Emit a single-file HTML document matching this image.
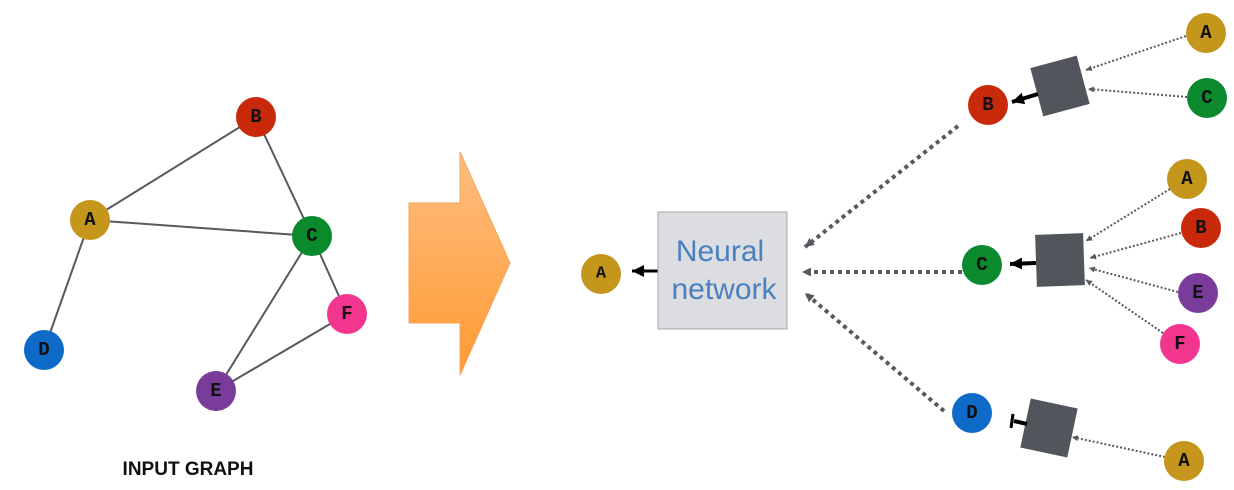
<!DOCTYPE html>
<html><head><meta charset="utf-8"><style>
html,body{margin:0;padding:0;background:#fff;}
svg{display:block}
.n{font-family:"Liberation Mono",monospace;font-weight:bold;font-size:19px;fill:#111;text-anchor:middle;dominant-baseline:central}
</style></head><body>
<svg width="1234" height="490" viewBox="0 0 1234 490" xmlns="http://www.w3.org/2000/svg">
<defs>
<linearGradient id="og" x1="0" y1="0" x2="0" y2="1"><stop offset="0" stop-color="#ffbe80"/><stop offset="1" stop-color="#ff9a33"/></linearGradient>
<marker id="gh" viewBox="0 0 10 10" refX="10" refY="5" markerWidth="6" markerHeight="6" markerUnits="userSpaceOnUse" orient="auto"><path d="M0,0L10,5L0,10z" fill="#555a60"/></marker>
<marker id="gs" viewBox="0 0 10 10" refX="10" refY="5" markerWidth="9" markerHeight="9" markerUnits="userSpaceOnUse" orient="auto"><path d="M0,0L10,5L0,10z" fill="#555a60"/></marker>
<marker id="bh" viewBox="0 0 10 10" refX="10" refY="5" markerWidth="12" markerHeight="12" markerUnits="userSpaceOnUse" orient="auto"><path d="M0,0L10,5L0,10z" fill="#000"/></marker>
</defs>
<!-- left graph -->
<g stroke="#555a60" stroke-width="2">
<line x1="90" y1="220" x2="256" y2="117"/>
<line x1="256" y1="117" x2="312" y2="236"/>
<line x1="90" y1="220" x2="312" y2="236"/>
<line x1="90" y1="220" x2="44" y2="350"/>
<line x1="312" y1="236" x2="347" y2="314"/>
<line x1="312" y1="236" x2="216" y2="391"/>
<line x1="347" y1="314" x2="216" y2="391"/>
</g>
<circle cx="256" cy="117" r="20" fill="#c8290b"/><text class="n" x="256" y="117">B</text>
<circle cx="90" cy="220" r="20" fill="#c4961c"/><text class="n" x="90" y="220">A</text>
<circle cx="312" cy="236" r="20" fill="#0a8a2c"/><text class="n" x="312" y="236">C</text>
<circle cx="347" cy="314" r="20" fill="#f2358d"/><text class="n" x="347" y="314">F</text>
<circle cx="44" cy="350" r="20" fill="#0e6ac8"/><text class="n" x="44" y="350">D</text>
<circle cx="216" cy="391" r="20" fill="#7a3c9a"/><text class="n" x="216" y="391">E</text>
<text x="188" y="475" font-family="Liberation Sans,sans-serif" font-weight="bold" font-size="19" text-anchor="middle" fill="#111">INPUT GRAPH</text>
<!-- big arrow -->
<path d="M409,203 L460,203 L460,152 L510,263 L460,375 L460,323 L409,323 Z" fill="url(#og)" stroke="#f5a35a" stroke-width="1"/>
<!-- A and NN -->
<circle cx="601" cy="274" r="20" fill="#c4961c"/><text class="n" x="601" y="274" style="font-size:17px">A</text>
<line x1="658" y1="271" x2="632" y2="271" stroke="#000" stroke-width="3" marker-end="url(#bh)"/>
<rect x="658" y="212" width="129" height="117" fill="#dcdde0" stroke="#a5a7aa" stroke-width="1"/>
<text x="720" y="261" font-family="Liberation Sans,sans-serif" font-size="30" fill="#4a7fc1" text-anchor="middle">Neural</text>
<text x="724" y="299" font-family="Liberation Sans,sans-serif" font-size="30" fill="#4a7fc1" text-anchor="middle">network</text>
<!-- thick dotted -->
<g stroke="#555a60" stroke-width="4" stroke-dasharray="4 4" fill="none">
<line x1="958" y1="126" x2="805" y2="247" marker-end="url(#gs)"/>
<line x1="962" y1="272" x2="802" y2="272" marker-end="url(#gs)"/>
<line x1="944" y1="411" x2="805" y2="293" marker-end="url(#gs)"/>
</g>
<!-- squares -->
<rect x="-24" y="-25" width="48" height="50" fill="#52565c" transform="translate(1060,86) rotate(-15)"/>
<rect x="-24" y="-26" width="48" height="52" fill="#52565c" transform="translate(1060,260) rotate(-2)"/>
<rect x="-24" y="-25" width="48" height="50" fill="#52565c" transform="translate(1049,428) rotate(12)"/>
<!-- thin dotted -->
<g stroke="#555a60" stroke-width="2" stroke-dasharray="2 2" fill="none">
<line x1="1186" y1="36" x2="1086" y2="70" marker-end="url(#gh)"/>
<line x1="1187" y1="97" x2="1088" y2="89" marker-end="url(#gh)"/>
<line x1="1170" y1="189" x2="1086" y2="241" marker-end="url(#gh)"/>
<line x1="1181" y1="233" x2="1090" y2="258" marker-end="url(#gh)"/>
<line x1="1178" y1="292" x2="1089" y2="268" marker-end="url(#gh)"/>
<line x1="1163" y1="333" x2="1086" y2="280" marker-end="url(#gh)"/>
<line x1="1165" y1="457" x2="1072" y2="437" marker-end="url(#gh)"/>
</g>
<!-- black arrows -->
<line x1="1038" y1="94" x2="1012" y2="102" stroke="#000" stroke-width="4" marker-end="url(#bh)"/>
<line x1="1036" y1="263" x2="1010" y2="264" stroke="#000" stroke-width="4" marker-end="url(#bh)"/>
<line x1="1027" y1="424" x2="1014" y2="421" stroke="#000" stroke-width="4"/>
<line x1="1013" y1="414" x2="1011" y2="428" stroke="#000" stroke-width="3"/>
<!-- right nodes -->
<circle cx="988" cy="105" r="20" fill="#c8290b"/><text class="n" x="988" y="105">B</text>
<circle cx="982" cy="265" r="20" fill="#0a8a2c"/><text class="n" x="982" y="265">C</text>
<circle cx="972" cy="413" r="20" fill="#0e6ac8"/><text class="n" x="972" y="413">D</text>
<circle cx="1206" cy="33" r="20" fill="#c4961c"/><text class="n" x="1206" y="33">A</text>
<circle cx="1207" cy="98" r="20" fill="#0a8a2c"/><text class="n" x="1207" y="98">C</text>
<circle cx="1187" cy="179" r="20" fill="#c4961c"/><text class="n" x="1187" y="179">A</text>
<circle cx="1201" cy="228" r="20" fill="#c8290b"/><text class="n" x="1201" y="228">B</text>
<circle cx="1198" cy="293" r="20" fill="#7a3c9a"/><text class="n" x="1198" y="293">E</text>
<circle cx="1180" cy="344" r="20" fill="#f2358d"/><text class="n" x="1180" y="344">F</text>
<circle cx="1184" cy="461" r="20" fill="#c4961c"/><text class="n" x="1184" y="461">A</text>
</svg>
</body></html>
